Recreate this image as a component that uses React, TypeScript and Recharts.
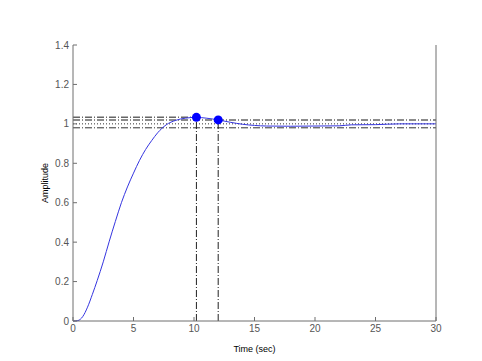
import {
  LineChart,
  Line,
  XAxis,
  YAxis,
  ReferenceLine,
  ReferenceDot,
} from 'recharts'

const time = [0, 0.4, 0.8, 1.2, 1.6, 2, 2.5, 3, 3.5, 4, 4.5, 5, 5.5, 6, 6.5, 7, 7.7, 8.5, 9.3, 10.2, 11, 12, 13, 14, 15, 16, 18, 20, 22, 23, 25, 27, 30]
const amplitude = [0, 0.002, 0.022, 0.07, 0.135, 0.205, 0.3, 0.405, 0.505, 0.6, 0.68, 0.75, 0.815, 0.87, 0.915, 0.955, 0.995, 1.018, 1.029, 1.033, 1.029, 1.02, 1.008, 0.998, 0.992, 0.989, 0.988, 0.989, 0.99, 0.995, 0.996, 1.0, 1.0]

const xTicks = [0, 5, 10, 15, 20, 25, 30]
const yTicks = [0, 0.2, 0.4, 0.6, 0.8, 1, 1.2, 1.4]

const peakTime = 10.2
const peakAmp = 1.033
const settleTime = 12
const settleAmp = 1.02
const finalValue = 1
const bandHigh = 1.02
const bandLow = 0.98

const data = time.map((t, i) => ({ t, y: amplitude[i] }))

const axisColor = '#6e6e6e'
const font = '"Liberation Sans", Arial, sans-serif'
const tickStyle = { fontSize: 10, fill: '#555', fontFamily: font }
const dashDot = '7 2 1 2'

export default function App() {
  return (
    <div style={{ position: 'absolute', left: 0, top: 0, background: '#fff' }}>
      <LineChart
        width={482}
        height={361}
        data={data}
        margin={{ top: 45, right: 0, left: 0, bottom: 0 }}
      >
        <XAxis
          dataKey="t"
          type="number"
          domain={[0, 30]}
          ticks={xTicks}
          height={40}
          stroke={axisColor}
          tickSize={-4}
          tickMargin={8}
          tick={tickStyle}
          label={{ value: 'Time (sec)', position: 'insideBottom', offset: 9, fontSize: 9, fill: '#000', fontFamily: font }}
        />
        <XAxis
          xAxisId="top"
          orientation="top"
          dataKey="t"
          type="number"
          domain={[0, 30]}
          ticks={xTicks}
          height={0}
          stroke={axisColor}
          tickSize={-4}
          tickFormatter={() => ''}
          label={{ value: 'Step Response', position: 'top', offset: 7, fontSize: 9, fill: '#000', fontFamily: font }}
        />
        <YAxis
          type="number"
          domain={[0, 1.4]}
          ticks={yTicks}
          width={73}
          stroke={axisColor}
          tickSize={-4}
          tickMargin={8}
          tick={tickStyle}
          tickFormatter={(v: number) => String(v)}
          label={{ value: 'Amplitude', angle: -90, position: 'center', dx: 8, fontSize: 9, fill: '#000', fontFamily: font }}
        />
        <YAxis
          yAxisId="right"
          orientation="right"
          type="number"
          domain={[0, 1.4]}
          ticks={yTicks}
          width={46}
          stroke={axisColor}
          tickSize={-4}
          tickFormatter={() => ''}
        />
        <ReferenceLine y={bandHigh} stroke="#666" strokeWidth={1.5} strokeDasharray={dashDot} />
        <ReferenceLine y={bandLow} stroke="#333" strokeDasharray={dashDot} />
        <ReferenceLine y={finalValue} stroke="#333" strokeDasharray="1 2" />
        <ReferenceLine
          segment={[{ x: 0, y: peakAmp }, { x: peakTime, y: peakAmp }]}
          stroke="#666"
          strokeWidth={1.5}
          strokeDasharray={dashDot}
        />
        <ReferenceLine
          segment={[{ x: peakTime, y: 0 }, { x: peakTime, y: peakAmp }]}
          stroke="#222"
          strokeDasharray={dashDot}
        />
        <ReferenceLine
          segment={[{ x: settleTime, y: 0 }, { x: settleTime, y: settleAmp }]}
          stroke="#222"
          strokeDasharray={dashDot}
        />
        <Line
          dataKey="y"
          type="monotone"
          stroke="#3535e0"
          strokeWidth={1}
          dot={false}
          isAnimationActive={false}
        />
        <ReferenceDot x={peakTime} y={peakAmp} r={4.5} fill="#0000ff" stroke="none" />
        <ReferenceDot x={settleTime} y={settleAmp} r={4.5} fill="#0000ff" stroke="none" />
      </LineChart>
    </div>
  )
}
